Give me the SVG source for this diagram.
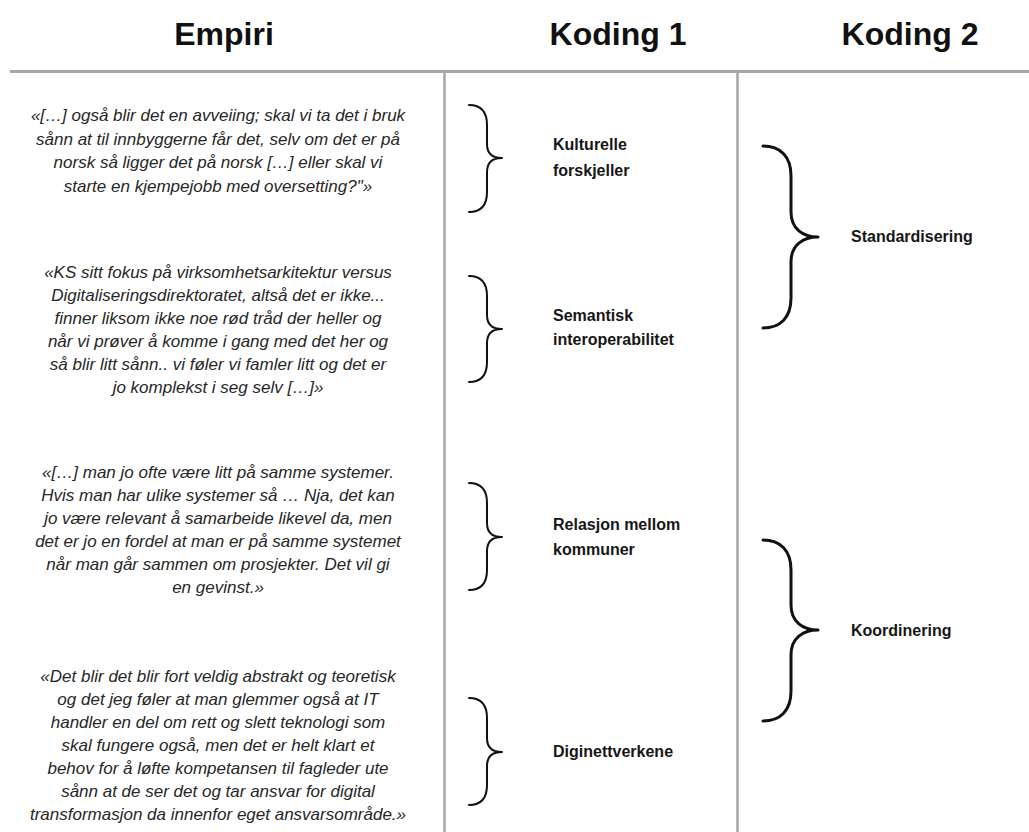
<svg xmlns="http://www.w3.org/2000/svg" width="1029" height="832" viewBox="0 0 1029 832">
<style>
.hdr{font-family:"Liberation Sans",Arial,sans-serif;font-weight:bold;font-size:32px;fill:#111;text-anchor:middle}
.q{font-family:"Liberation Sans",Arial,sans-serif;font-style:italic;font-size:17px;fill:#262626;text-anchor:middle}
.c1{font-family:"Liberation Sans",Arial,sans-serif;font-weight:bold;font-size:16px;fill:#161616}
.c2{font-family:"Liberation Sans",Arial,sans-serif;font-weight:bold;font-size:16px;fill:#161616}
.grid{stroke:#a6a6a6;fill:none}
.brace{fill:none;stroke:#111;stroke-width:2;stroke-linecap:round;stroke-linejoin:round}
.bigbrace{fill:none;stroke:#111;stroke-width:3;stroke-linecap:round;stroke-linejoin:round}
</style>
<rect width="1029" height="832" fill="#fff"/>
<g id="grid">
<line class="grid" x1="10" y1="71.5" x2="1029" y2="71.5" stroke-width="3"/>
<line class="grid" x1="444.5" y1="73" x2="444.5" y2="832" stroke-width="2.5"/>
<line class="grid" x1="737.5" y1="73" x2="737.5" y2="832" stroke-width="2.5"/>
</g>
<g id="headers">
<text class="hdr" x="224" y="45">Empiri</text>
<text class="hdr" x="618" y="45">Koding 1</text>
<text class="hdr" x="910" y="45">Koding 2</text>
</g>
<g id="quote1">
<text class="q" x="218" y="121">«[…] også blir det en avveiing; skal vi ta det i bruk</text>
<text class="q" x="218" y="145">sånn at til innbyggerne får det, selv om det er på</text>
<text class="q" x="218" y="168">norsk så ligger det på norsk […] eller skal vi</text>
<text class="q" x="218" y="192">starte en kjempejobb med oversetting?"»</text>
</g>
<g id="quote2">
<text class="q" x="218" y="278">«KS sitt fokus på virksomhetsarkitektur versus</text>
<text class="q" x="218" y="301">Digitaliseringsdirektoratet, altså det er ikke...</text>
<text class="q" x="218" y="324">finner liksom ikke noe rød tråd der heller og</text>
<text class="q" x="218" y="347">når vi prøver å komme i gang med det her og</text>
<text class="q" x="218" y="370">så blir litt sånn.. vi føler vi famler litt og det er</text>
<text class="q" x="218" y="393">jo komplekst i seg selv […]»</text>
</g>
<g id="quote3">
<text class="q" x="218" y="478">«[…] man jo ofte være litt på samme systemer.</text>
<text class="q" x="218" y="501">Hvis man har ulike systemer så … Nja, det kan</text>
<text class="q" x="218" y="524">jo være relevant å samarbeide likevel da, men</text>
<text class="q" x="218" y="547">det er jo en fordel at man er på samme systemet</text>
<text class="q" x="218" y="570">når man går sammen om prosjekter. Det vil gi</text>
<text class="q" x="218" y="593">en gevinst.»</text>
</g>
<g id="quote4">
<text class="q" x="218" y="682">«Det blir det blir fort veldig abstrakt og teoretisk</text>
<text class="q" x="218" y="705">og det jeg føler at man glemmer også at IT</text>
<text class="q" x="218" y="728">handler en del om rett og slett teknologi som</text>
<text class="q" x="218" y="751">skal fungere også, men det er helt klart et</text>
<text class="q" x="218" y="774">behov for å løfte kompetansen til fagleder ute</text>
<text class="q" x="218" y="797">sånn at de ser det og tar ansvar for digital</text>
<text class="q" x="218" y="820">transformasjon da innenfor eget ansvarsområde.»</text>
</g>
<g id="code-kulturelle">
<text class="c1" x="553" y="150">Kulturelle</text>
<text class="c1" x="553" y="176">forskjeller</text>
</g>
<g id="code-semantisk">
<text class="c1" x="553" y="321">Semantisk</text>
<text class="c1" x="553" y="345">interoperabilitet</text>
</g>
<g id="code-relasjon">
<text class="c1" x="553" y="530">Relasjon mellom</text>
<text class="c1" x="553" y="555">kommuner</text>
</g>
<g id="code-diginettverkene">
<text class="c1" x="553" y="757">Diginettverkene</text>
</g>
<g id="code-standardisering">
<text class="c2" x="851" y="242">Standardisering</text>
</g>
<g id="code-koordinering">
<text class="c2" x="851" y="636">Koordinering</text>
</g>
<g id="connectors">
<path class="brace" d="M469,105 C481,105 487,111 487,125 L487,144 C487,154 493,158 502,158 C493,158 487,162 487,172 L487,192 C487,206 481,212 469,212"/>
<path class="brace" d="M469,276 C481,276 487,282 487,296 L487,315 C487,325 493,329 502,329 C493,329 487,333 487,343 L487,362 C487,376 481,382 469,382"/>
<path class="brace" d="M469,483 C481,483 487,489 487,503 L487,523 C487,533 493,537 502,537 C493,537 487,541 487,551 L487,570 C487,584 481,590 469,590"/>
<path class="brace" d="M469,698 C481,698 487,704 487,718 L487,738 C487,748 493,752 502,752 C493,752 487,756 487,766 L487,785 C487,799 481,805 469,805"/>
<path class="bigbrace" d="M763,146 C780,146 791,156 791,176 L791,212 C791,229 803,237 818,237 C803,237 791,245 791,262 L791,298 C791,318 780,328 763,328"/>
<path class="bigbrace" d="M763,540 C780,540 791,550 791,570 L791,605 C791,622 803,630 818,630 C803,630 791,638 791,655 L791,691 C791,711 780,721 763,721"/>
</g>
</svg>
